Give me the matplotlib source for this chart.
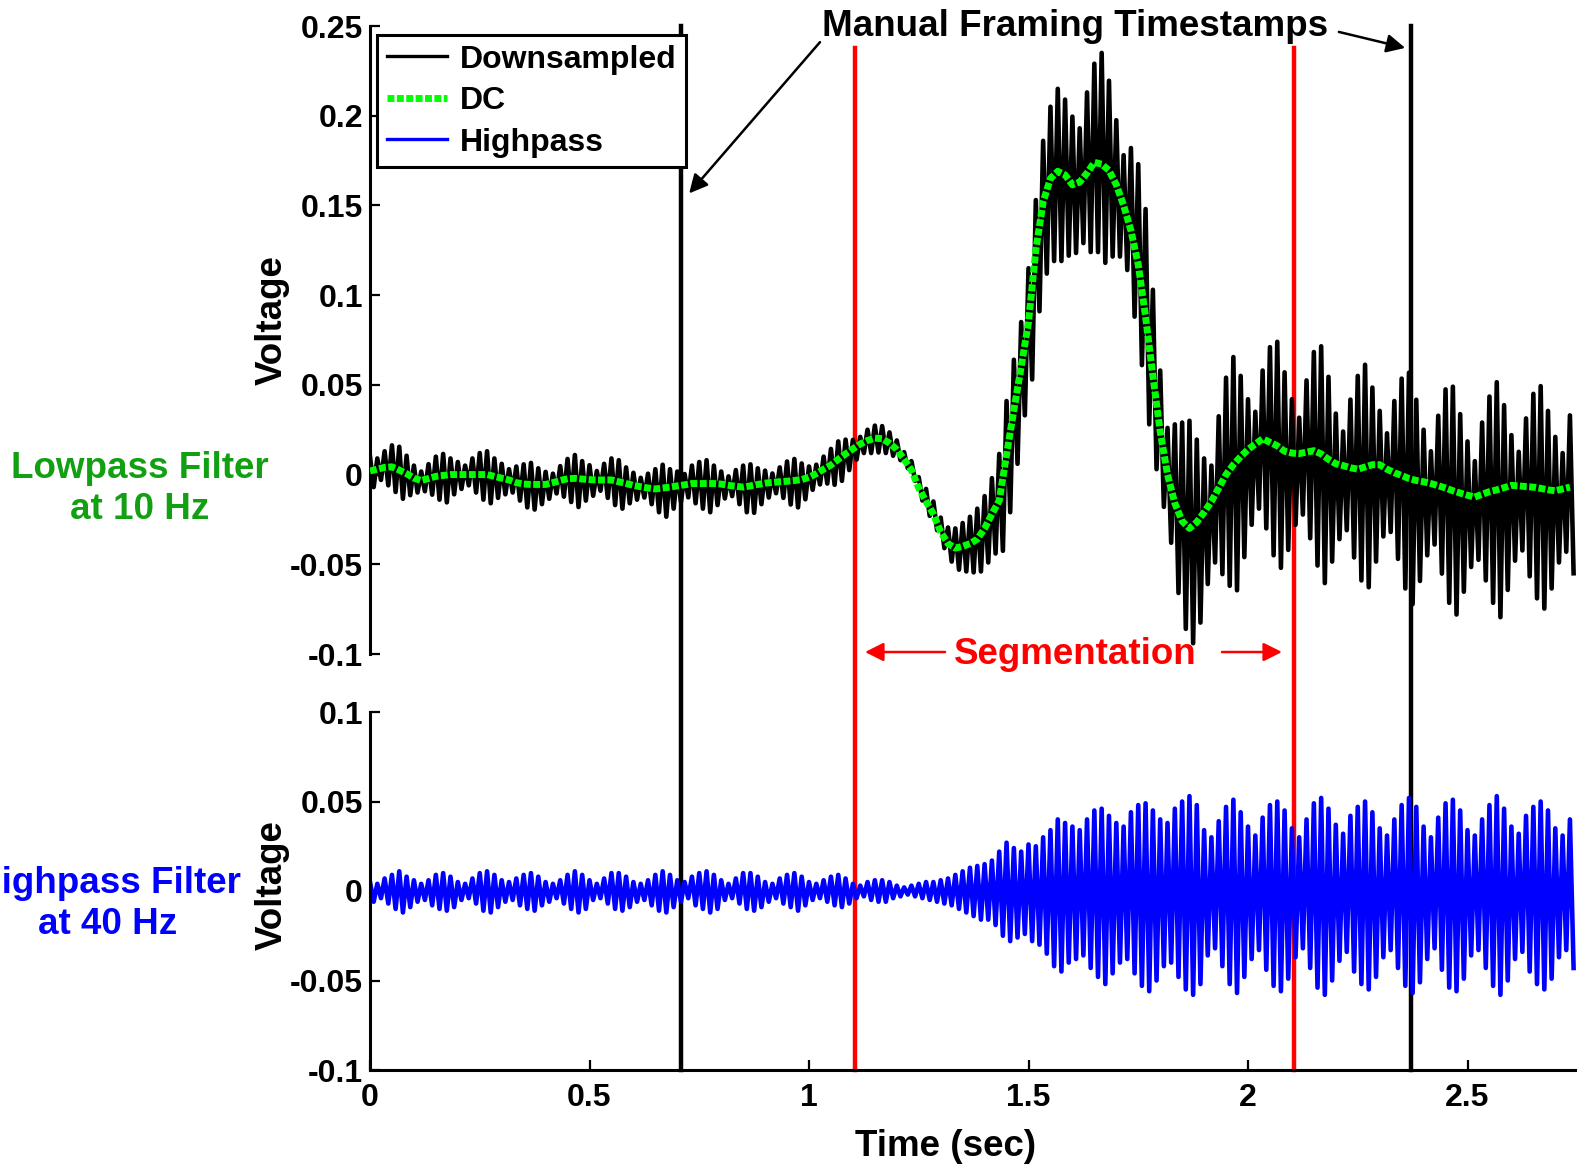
import numpy as np
import matplotlib
matplotlib.use("Agg")
import matplotlib.pyplot as plt
from matplotlib.lines import Line2D
from matplotlib import transforms

plt.rcParams['font.family'] = ['Liberation Sans', 'DejaVu Sans']
plt.rcParams['font.weight'] = 'bold'

# 60 Hz hum: one peak and one trough per cycle, values in mV
cycle_rate = 60

# lowpass (DC) level at each cycle
dc_mv = [2, 3, 4, 4.3, 2.5, 0.5, -2, -3.3, -2.2, -1,
         -0.5, 0, 0, 0, 0, 0, 0, -1, -2, -3,
         -4.5, -5.3, -5.5, -5.5, -5.5, -4.5, -3.3, -2.3, -2.1, -2.5,
         -2.8, -3, -3, -3, -4, -5, -6, -6.8, -7.5, -8,
         -7.5, -7, -6.3, -5.7, -5, -5, -5, -5, -5.3, -6,
         -6.5, -7, -6.3, -5.5, -4.8, -4.4, -4, -3.7, -3.3, -2.8,
         -1.5, 0.5, 3, 5.3, 8.5, 11.5, 14.3, 17, 19, 20.3,
         20, 17.5, 14, 8.5, 2.5, -7.5, -15, -22, -32, -38.5,
         -41, -40, -38.5, -36, -30, -22, -14.5, 11, 36, 60,
         85, 125, 152, 165, 169, 167, 161.5, 163, 168, 174,
         173, 169.5, 161.5, 150, 136, 117, 88, 55, 24, 0,
         -16, -26, -30, -26.5, -21, -15, -7.5, 0, 5.5, 10,
         14, 17, 20, 18, 16, 13, 12, 11.7, 12.5, 13.3,
         11.5, 8.5, 6, 5, 3.8, 3, 4.2, 5.5, 5.5, 3,
         1, -0.5, -2.2, -3.3, -4, -5, -6.2, -7.5, -9, -10.3,
         -11.5, -12.5, -11, -9.5, -8.5, -7.3, -6, -6.3, -6.7, -7,
         -7.7, -8.5, -9, -8, -7]

# downsampled signal: swing above / below the DC level per cycle
raw_peak_mv = [8, 6, 9, 12, 13, 10, 7, 5, 8, 11, 12, 9,
               7, 5, 9, 12, 13, 10, 8, 6, 9, 11, 12, 9,
               7, 5, 8, 11, 13, 10, 8, 5, 9, 12, 12, 9,
               7, 5, 8, 11, 13, 10, 8, 6, 10, 12, 13, 10,
               7, 5, 9, 12, 12, 9, 7, 5, 8, 11, 12, 9,
               6, 5, 7, 9, 10, 8, 5, 4, 6, 7, 7, 6,
               5, 4, 5, 6, 7, 7, 8, 9, 11, 13, 15, 17,
               18, 20, 26, 30, 28, 25, 30, 28, 34, 40, 46, 42,
               38, 30, 45, 55, 62, 50, 36, 28, 46, 56, 60, 48,
               34, 26, 44, 55, 60, 46, 30, 20, 40, 54, 60, 45,
               28, 18, 38, 53, 58, 44, 30, 20, 40, 55, 60, 46,
               28, 19, 38, 52, 57, 43, 30, 20, 40, 54, 59, 45,
               29, 18, 39, 55, 58, 44, 30, 20, 40, 53, 60, 46,
               28, 19, 38, 52, 57, 44, 30, 20, 40]
raw_trough_mv = [-9, -6, -10, -14, -16, -12, -8, -6, -9, -13, -15, -11,
                 -8, -6, -10, -14, -16, -12, -9, -7, -10, -13, -14, -11,
                 -8, -6, -9, -13, -16, -12, -9, -6, -10, -14, -15, -11,
                 -8, -6, -9, -13, -16, -12, -9, -7, -11, -14, -16, -12,
                 -8, -6, -10, -14, -15, -11, -8, -6, -9, -13, -15, -11,
                 -7, -6, -8, -11, -12, -9, -6, -5, -7, -8, -8, -7,
                 -6, -5, -6, -7, -8, -9, -9, -10, -12, -14, -16, -18,
                 -19, -22, -28, -32, -30, -27, -32, -34, -40, -46, -50, -45,
                 -38, -34, -44, -50, -55, -48, -40, -36, -48, -56, -60, -52,
                 -42, -38, -50, -60, -64, -56, -40, -34, -48, -62, -70, -56,
                 -42, -36, -50, -63, -68, -55, -40, -34, -48, -64, -72, -57,
                 -42, -36, -50, -62, -67, -54, -40, -35, -48, -63, -70, -56,
                 -41, -34, -49, -64, -69, -55, -40, -35, -48, -62, -71, -57,
                 -42, -36, -50, -62, -67, -55, -40, -35, -48]

# highpass output
hp_peak_mv = [5, 4, 7, 9, 11, 8, 6, 4, 6, 9, 10, 8,
              5, 4, 7, 10, 11, 9, 6, 5, 7, 9, 10, 8,
              5, 4, 6, 9, 11, 9, 6, 4, 7, 10, 10, 8,
              5, 4, 6, 9, 11, 9, 6, 5, 8, 10, 11, 9,
              6, 4, 7, 10, 10, 8, 5, 4, 7, 9, 10, 8,
              5, 4, 6, 8, 9, 7, 4, 3, 5, 6, 6, 5,
              3, 2, 3, 4, 5, 5, 6, 7, 9, 11, 13, 14,
              15, 17, 22, 27, 24, 22, 26, 25, 30, 34, 40, 38,
              36, 34, 40, 45, 46, 42, 38, 36, 44, 48, 49, 45,
              40, 38, 46, 50, 53, 48, 34, 30, 39, 47, 51, 44,
              36, 31, 41, 48, 50, 45, 35, 30, 40, 49, 52, 46,
              37, 32, 42, 47, 50, 44, 35, 31, 40, 48, 52, 47,
              36, 30, 41, 49, 51, 45, 34, 31, 40, 48, 53, 46,
              36, 32, 42, 47, 50, 45, 35, 31, 40]
hp_trough_mv = [-6, -4, -7, -10, -12, -9, -6, -5, -8, -10, -11, -9,
                -5, -4, -7, -11, -12, -9, -6, -5, -8, -10, -11, -8,
                -6, -4, -7, -10, -12, -10, -5, -4, -7, -10, -11, -9,
                -6, -5, -8, -11, -12, -9, -6, -4, -8, -10, -12, -10,
                -5, -4, -7, -10, -11, -9, -6, -4, -7, -9, -11, -8,
                -5, -4, -6, -8, -9, -7, -4, -3, -5, -6, -6, -4,
                -3, -2, -3, -4, -5, -6, -7, -8, -10, -12, -14, -16,
                -16, -19, -25, -28, -26, -24, -28, -30, -35, -42, -45, -40,
                -38, -36, -43, -48, -52, -46, -40, -38, -46, -53, -56, -50,
                -42, -40, -48, -55, -58, -52, -36, -32, -42, -52, -57, -48,
                -38, -33, -44, -53, -56, -49, -37, -32, -43, -54, -58, -50,
                -39, -34, -45, -52, -55, -48, -37, -33, -43, -53, -57, -51,
                -38, -32, -44, -54, -56, -49, -36, -33, -43, -53, -58, -50,
                -38, -34, -45, -52, -55, -49, -37, -33, -43]

frame_times = [0.708, 2.371]     # manual framing timestamps (black)
segment_times = [1.105, 2.105]   # segmentation bounds (red)

xticks = [0, 0.5, 1, 1.5, 2, 2.5]
xtick_labels = ['0', '0.5', '1', '1.5', '2', '2.5']
top_yticks = [-0.1, -0.05, 0, 0.05, 0.1, 0.15, 0.2, 0.25]
top_ylabels = ['-0.1', '-0.05', '0', '0.05', '0.1', '0.15', '0.2', '0.25']
bot_yticks = [-0.1, -0.05, 0, 0.05, 0.1]
bot_ylabels = ['-0.1', '-0.05', '0', '0.05', '0.1']

n = len(dc_mv)
t_dc = np.arange(n) / cycle_rate
t_zig = np.arange(2 * n) / (2 * cycle_rate)
dc = np.array(dc_mv) / 1000.0

raw = np.empty(2 * n)
raw[0::2] = raw_peak_mv
raw[1::2] = raw_trough_mv
raw = np.repeat(dc, 2) + raw / 1000.0

hp = np.empty(2 * n)
hp[0::2] = hp_peak_mv
hp[1::2] = hp_trough_mv
hp = hp / 1000.0

W, H = 1577, 1170
fig = plt.figure(figsize=(W / 100, H / 100), dpi=100)
ax_top = fig.add_axes([370 / W, 1 - 654 / H, 1207 / W, 628 / H])
ax_bot = fig.add_axes([370 / W, 1 - 1070 / H, 1207 / W, 358 / H])
xmax = 1207 / 439.0

green = '#00ff00'
dc_style = (0, (1, 0.35))
big = 26.5

ax_top.plot(t_zig, raw, color='k', lw=3.3, zorder=2)
ax_top.plot(t_dc, dc, color=green, lw=5, linestyle=dc_style,
            dash_capstyle='butt', zorder=3)
ax_bot.plot(t_zig, hp, color='#0000ff', lw=3.3, zorder=2)

for ax in (ax_top, ax_bot):
    ax.set_facecolor('none')
    ax.set_xlim(0, xmax)
    ax.spines['top'].set_visible(False)
    ax.spines['right'].set_visible(False)
    for s in ax.spines.values():
        s.set_linewidth(2.2)
    ax.tick_params(direction='in', length=7, width=1.6, labelsize=23)
    ax.tick_params(axis='y', pad=5)
    ax.tick_params(axis='x', pad=9)

ax_top.spines['bottom'].set_visible(False)
ax_top.set_ylim(-0.1, 0.25)
ax_top.set_yticks(top_yticks, top_ylabels)
ax_top.set_xticks([])

ax_bot.set_ylim(-0.1, 0.1)
ax_bot.set_yticks(bot_yticks, bot_ylabels)
ax_bot.set_xticks(xticks, xtick_labels)

# vertical markers running through both panels
vtrans = transforms.blended_transform_factory(ax_top.transData, fig.transFigure)
for t in frame_times:
    fig.add_artist(Line2D([t, t], [1 - 26 / H, 1 - 1070 / H], transform=vtrans,
                          color='k', lw=3.2, zorder=-1))
for t in segment_times:
    fig.add_artist(Line2D([t, t], [1 - 48 / H, 1 - 1070 / H], transform=vtrans,
                          color='#ff0000', lw=3.2, zorder=-1))

handles = [Line2D([], [], color='k', lw=2.4),
           Line2D([], [], color=green, lw=5, linestyle=dc_style, dash_capstyle='butt'),
           Line2D([], [], color='#0000ff', lw=2.4)]
leg = ax_top.legend(handles, ['Downsampled', 'DC', 'Highpass'], loc='upper left',
                    bbox_to_anchor=(7 / 1207, 1 - 9 / 628), borderaxespad=0,
                    fontsize=23, fancybox=False, edgecolor='k', framealpha=1,
                    handlelength=1.9, handletextpad=0.4, labelspacing=0.36,
                    borderpad=0.3)
leg.get_frame().set_linewidth(2.2)

# annotations
ax_top.text(1.606, 0.25, 'Manual Framing Timestamps', ha='center', va='center',
            fontsize=big)
arrow_k = dict(arrowstyle='-|>', color='k', lw=1.8, mutation_scale=28,
               shrinkA=0, shrinkB=0)
ax_top.annotate('', xy=(0.727, 0.1567), xytext=(1.025, 0.241),
                arrowprops=arrow_k, annotation_clip=False)
ax_top.annotate('', xy=(2.358, 0.2378), xytext=(2.207, 0.2467),
                arrowprops=arrow_k, annotation_clip=False)

ax_top.text(1.606, -0.1005, 'Segmentation', ha='center', va='center',
            fontsize=big, color='#ff0000')
arrow_r = dict(arrowstyle='-|>', color='#ff0000', lw=1.8, mutation_scale=28,
               shrinkA=0, shrinkB=0)
ax_top.annotate('', xy=(1.1276, -0.0989), xytext=(1.31, -0.0989),
                arrowprops=arrow_r, annotation_clip=False)
ax_top.annotate('', xy=(2.0774, -0.0989), xytext=(1.9408, -0.0989),
                arrowprops=arrow_r, annotation_clip=False)

fig.text(272 / W, 1 - 320 / H, 'Voltage', rotation=90, ha='center', va='center',
         fontsize=big)
fig.text(272 / W, 1 - 885 / H, 'Voltage', rotation=90, ha='center', va='center',
         fontsize=big)
fig.text(946 / W, 1 - 1146 / H, 'Time (sec)', ha='center', va='center', fontsize=big)

fig.text(140 / W, 1 - 489 / H, 'Lowpass Filter\nat 10 Hz', ha='center', va='center',
         fontsize=big, color='#11a011', linespacing=1.25)
fig.text(108 / W, 1 - 904 / H, 'Highpass Filter\nat 40 Hz', ha='center', va='center',
         fontsize=big, color='#0000ff', linespacing=1.25)

fig.savefig('out.png', dpi=100)
